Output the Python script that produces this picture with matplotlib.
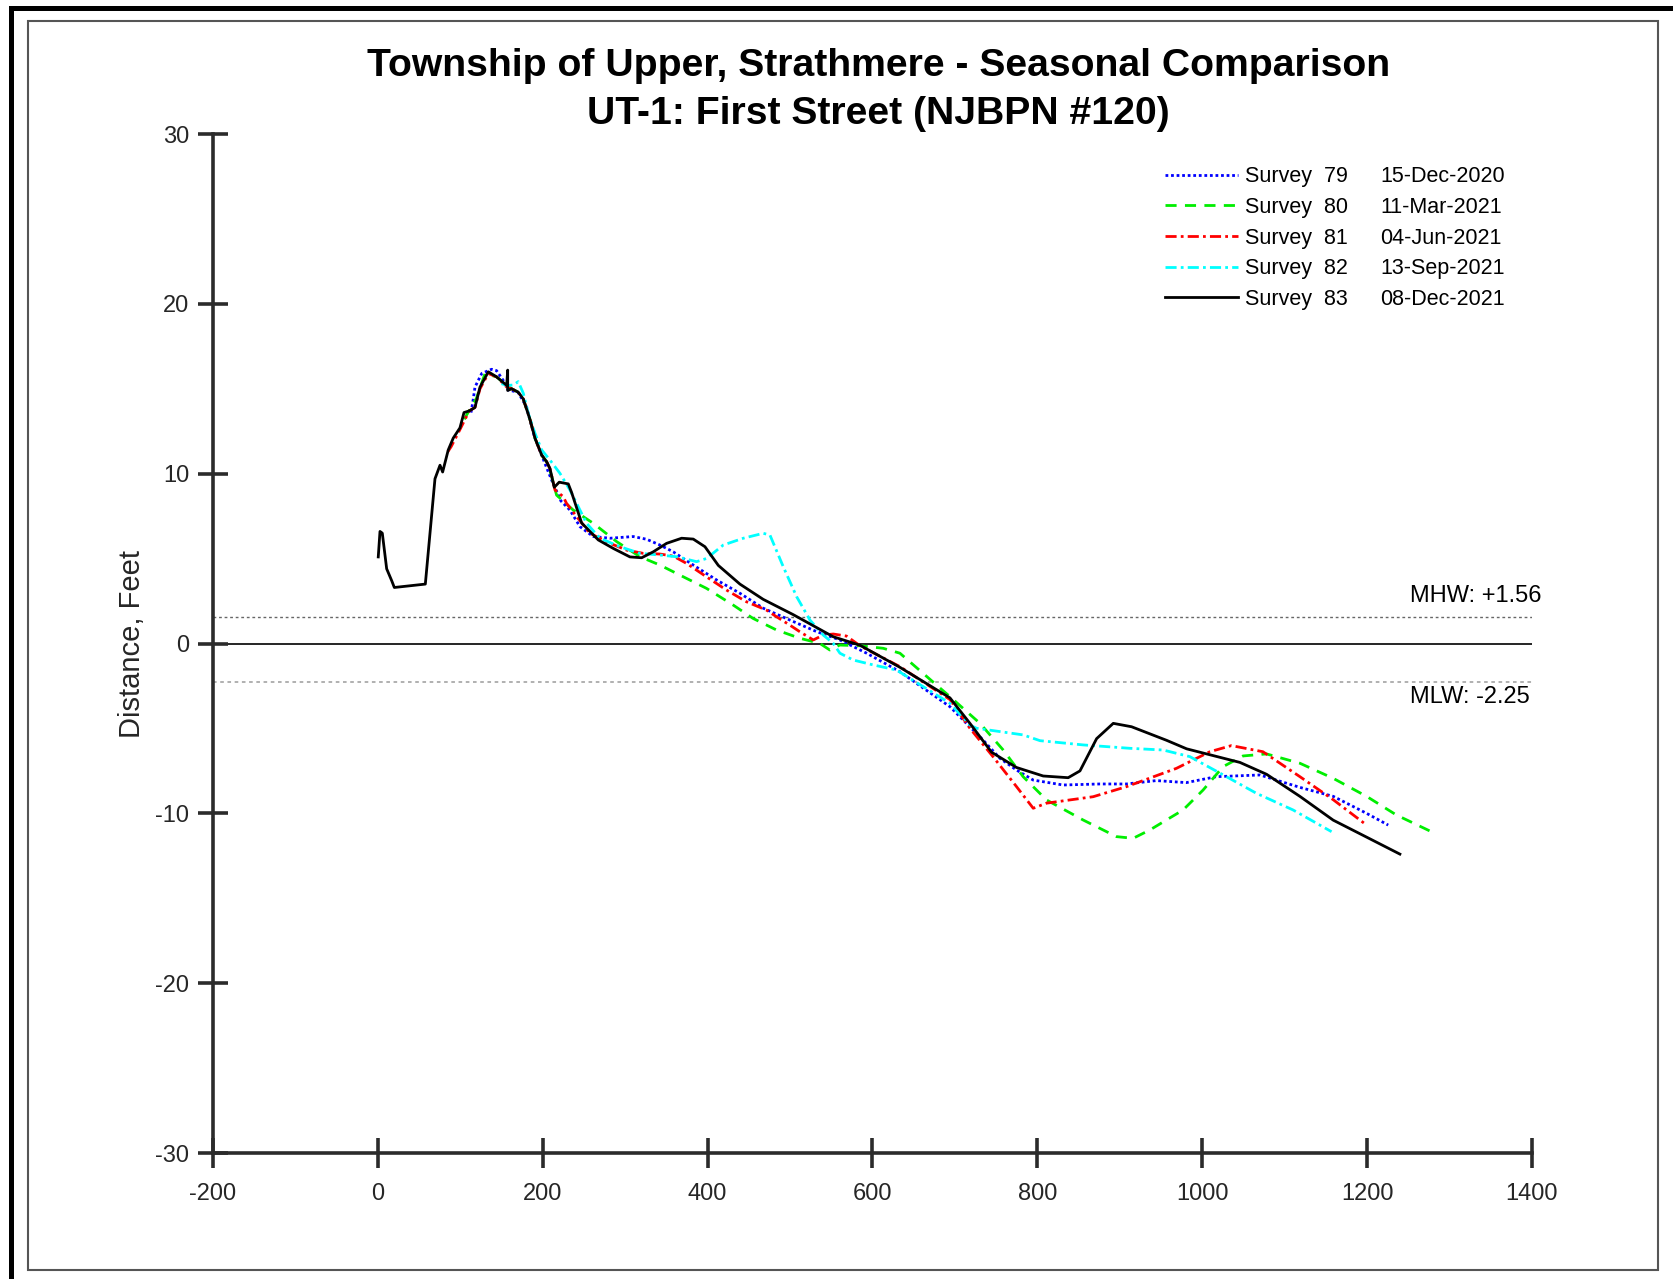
import numpy as np
import matplotlib
matplotlib.use("Agg")
import matplotlib.pyplot as plt
from matplotlib.lines import Line2D
from matplotlib.patches import Rectangle

plt.rcParams['font.family'] = ['Liberation Sans', 'DejaVu Sans']
plt.rcParams['axes.unicode_minus'] = False

# survey profiles (distance ft, elevation ft)
s79_x = [113, 115.8, 117.8, 126, 138, 144, 152, 158, 170, 180.3, 184.5, 190.6, 198.7, 202.7, 210.8,
         222, 233, 245.2, 261.3, 281.6, 309.8, 326, 342.2, 358.3, 382.6, 411, 439.2, 467.5, 499.9,
         532.3, 560.5, 592.9, 633.3, 694, 734.1, 754.6, 774.8, 795, 831.1, 875.6, 908, 944.3, 980.7,
         1017, 1070, 1118.5, 1159, 1199.4, 1225.6]
s79_y = [13.6, 14.4, 15.1, 15.9, 16.15, 16.07, 15.5, 14.93, 14.8, 13.94, 13.16, 12.08, 11.1, 10.6, 9.63,
         8.4, 7.86, 6.88, 6.3, 6.2, 6.3, 6.14, 5.8, 5.4, 4.62, 3.74, 2.96, 2.08, 1.38,
         0.7, 0.21, -0.57, -1.66, -3.72, -5.68, -6.76, -7.45, -8.04, -8.33, -8.27, -8.27, -8.07, -8.19,
         -7.84, -7.74, -8.47, -9.0, -10.0, -10.69]

s80_x = [105, 107.6, 119.6, 130, 144.1, 156.3, 162.3, 170.3, 176.4, 184.5, 190.6, 198.7, 204.8, 210,
         216.8, 237, 261.3, 289.7, 318, 342.2, 370.5, 398.6, 430.9, 455.1, 483.5, 511.9, 536.1, 548.2,
         560.3, 584.8, 613, 633.3, 694, 730.4, 758.6, 782.8, 811.1, 855.5, 896, 916.2, 936.4, 976.8,
         1001, 1025.3, 1049.5, 1078, 1118.5, 1159, 1199.4, 1235.7, 1278]
s80_y = [13.2, 13.45, 14.44, 15.9, 15.7, 15.2, 15.0, 14.8, 14.4, 13.2, 12.1, 11.1, 10.7, 10.0,
         8.74, 7.86, 7.08, 6.0, 5.11, 4.62, 3.93, 3.25, 2.27, 1.48, 0.8, 0.31, 0.01, -0.38,
         -0.09, -0.13, -0.28, -0.57, -3.13, -4.7, -6.27, -7.84, -9.21, -10.39, -11.37, -11.47, -10.98, -9.8,
         -8.63, -7.25, -6.62, -6.5, -7.05, -7.94, -9.0, -10.1, -11.08]

s81_x = [85, 89, 99.6, 110.9, 117.8, 123.9, 134, 144.1, 156.3, 162.3, 170.3, 176.4, 184.5, 190.6,
         198.7, 204.8, 208.8, 214.9, 224.9, 228.8, 241.2, 257.3, 281.6, 301.8, 321.9, 342.2, 358.3,
         374.4, 398.6, 422.9, 447.1, 471.4, 483.5, 499.6, 511.7, 528.2, 540.2, 552.4, 568.5, 584.8,
         633.3, 694, 718.2, 746.2, 774.8, 795, 811.1, 867.7, 908, 968.7, 1009.3, 1035.4, 1073.6,
         1118.5, 1159, 1199.4]
s81_y = [11.3, 11.6, 12.6, 13.7, 13.9, 15.0, 15.9, 15.7, 15.1, 15.0, 14.8, 14.4, 13.2, 12.1,
         11.1, 10.7, 10.3, 9.04, 8.65, 8.26, 7.47, 6.49, 5.9, 5.5, 5.31, 5.27, 5.15,
         4.72, 3.93, 3.15, 2.46, 1.97, 1.58, 1.09, 0.7, 0.21, 0.5, 0.56, 0.44, -0.13,
         -1.36, -3.3, -4.99, -6.66, -8.43, -9.7, -9.4, -9.02, -8.43, -7.35, -6.37, -6.01, -6.37,
         -7.84, -9.2, -10.69]

s82_x = [150, 157, 164.3, 170.3, 176.4, 182.4, 190.6, 198.7, 208.8, 220.9, 233, 243.1, 253.2, 269.4,
         293.7, 318, 342.2, 362.4, 386.7, 398.8, 419, 443.3, 467.5, 475.6, 491.8, 508, 524.2, 540.3,
         552.4, 560.5, 576.6, 600.9, 629.2, 694, 718.2, 726.3, 782.8, 803.2, 855.6, 912.3, 952.6, 985,
         1029.4, 1065.8, 1110.2, 1156.9]
s82_y = [15.3, 15.2, 15.22, 15.42, 14.74, 13.56, 12.38, 11.4, 10.8, 10.02, 9.04, 8.06, 7.08, 6.2,
         5.7, 5.31, 5.21, 5.11, 4.82, 5.01, 5.8, 6.2, 6.49, 6.39, 4.52, 2.76, 1.38, 0.5,
         0.01, -0.57, -0.97, -1.26, -1.56, -3.52, -4.8, -4.99, -5.38, -5.72, -5.97, -6.17, -6.27, -6.66,
         -7.84, -8.82, -9.8, -11.08]

s83_x = [0.5, 2.6, 5.4, 10.7, 16.8, 20, 57.6, 69.3, 75.4, 78.6, 85.4, 91.5, 99.6, 104.5, 110.9, 117.8,
         123.9, 134, 144.1, 156.3, 157.5, 157.5, 162.3, 170.3, 176.4, 184.5, 190.6, 198.7, 204.8, 208.8,
         214, 220, 231, 235, 247.2, 267.4, 285.6, 305.8, 320, 334.1, 350.3, 368.5, 382.6, 396.8, 413,
         439.2, 467.5, 503.9, 552.4, 584.8, 633.3, 694, 718.2, 744.5, 774.8, 807.1, 837.4, 851.7, 871.9,
         892.1, 914.3, 956.8, 981.1, 1005.3, 1045.7, 1078.1, 1118.5, 1158.9, 1199.4, 1239.8]
s83_y = [5.1, 6.6, 6.5, 4.4, 3.7, 3.3, 3.5, 9.7, 10.5, 10.1, 11.4, 12.1, 12.7, 13.6, 13.7, 13.9,
         15.1, 16.0, 15.7, 15.2, 16.1, 14.9, 15.0, 14.8, 14.4, 13.2, 12.1, 11.1, 10.7, 10.3,
         9.2, 9.5, 9.4, 8.9, 7.1, 6.1, 5.6, 5.1, 5.05, 5.4, 5.9, 6.2, 6.15, 5.7, 4.6,
         3.5, 2.6, 1.7, 0.4, -0.1, -1.4, -3.2, -4.7, -6.4, -7.3, -7.8, -7.9, -7.5, -5.6,
         -4.7, -4.9, -5.7, -6.2, -6.5, -7.0, -7.7, -9.0, -10.4, -11.4, -12.4]

survey_nums = ['79', '80', '81', '82', '83']
survey_dates = ['15-Dec-2020', '11-Mar-2021', '04-Jun-2021', '13-Sep-2021', '08-Dec-2021']
MHW = 1.56
MLW = -2.25

series = [(s79_x, s79_y, '#0000ff', (0, (1, 1))),
          (s80_x, s80_y, '#00ee00', (0, (4, 3))),
          (s81_x, s81_y, '#ff0000', (0, (4, 1.5, 1, 1.5))),
          (s82_x, s82_y, '#00ffff', (0, (4, 1.5, 1, 1.5))),
          (s83_x, s83_y, '#000000', '-')]

fig = plt.figure(figsize=(16.73, 12.79), dpi=100)
ax = fig.add_axes([0.1273, 0.0985, 0.7884, 0.7967])

ax.axhline(0, color='black', lw=1.2, zorder=1)
ax.axhline(MHW, color='#666666', lw=1.0, ls=(0, (2, 2)), zorder=1)
ax.axhline(MLW, color='#aaaaaa', lw=1.3, ls=(0, (2, 2)), zorder=1)

handles = []
for x, y, c, ls in series:
    h, = ax.plot(x, y, color=c, ls=ls, lw=2.0, zorder=2)
    handles.append(h)

ax.set_xlim(-200, 1400)
ax.set_ylim(-30, 30)
ax.set_xticks(np.arange(-200, 1401, 200))
ax.set_yticks(np.arange(-30, 31, 10))

for s in ['top', 'right']:
    ax.spines[s].set_visible(False)
for s in ['left', 'bottom']:
    ax.spines[s].set_linewidth(2.6)
    ax.spines[s].set_color('#2b2b2b')
ax.tick_params(direction='inout', length=21, width=2.6, color='#2b2b2b',
               labelcolor='#262626', labelsize=17)
ax.tick_params(axis='y', pad=6.5)
ax.tick_params(axis='x', pad=11.3)

ax.set_ylabel('Distance, Feet', fontsize=21, color='#262626')
ax.yaxis.set_label_coords(-0.051, 0.5)

ax.text(1252, 2.77, 'MHW: +1.56', fontsize=17, va='center', ha='left')
ax.text(1252, -3.15, 'MLW: -2.25', fontsize=17, va='center', ha='left')

fig.text(0.525, 0.9485, 'Township of Upper, Strathmere - Seasonal Comparison',
         fontsize=28.2, fontweight='bold', ha='center', va='center')
fig.text(0.525, 0.9105, 'UT-1: First Street (NJBPN #120)',
         fontsize=28.2, fontweight='bold', ha='center', va='center')

leg1 = fig.legend(handles, ['Survey  ' + n for n in survey_nums], loc='upper left',
                  bbox_to_anchor=(0.6963, 0.870), frameon=False, fontsize=15.5,
                  handlelength=3.4, handletextpad=0.3, labelspacing=0.45,
                  borderpad=0, borderaxespad=0)
blank = [Line2D([], [], color='none') for _ in survey_dates]
fig.legend(blank, survey_dates, loc='upper left', bbox_to_anchor=(0.8249, 0.870),
           frameon=False, fontsize=15.5, handlelength=0, handletextpad=0,
           labelspacing=0.45, borderpad=0, borderaxespad=0)

# page frame
fig.add_artist(Rectangle((0.0167, 0.007), 0.9743, 0.9766, transform=fig.transFigure,
                         fill=False, edgecolor='#555555', lw=1.5))
fig.add_artist(Line2D([0.0063, 1.0], [0.9941, 0.9941], transform=fig.transFigure,
                      color='black', lw=3.6))
fig.add_artist(Line2D([0.0063, 0.0063], [0.0, 0.9941], transform=fig.transFigure,
                      color='black', lw=3.6))

fig.savefig('out.png', dpi=100)
